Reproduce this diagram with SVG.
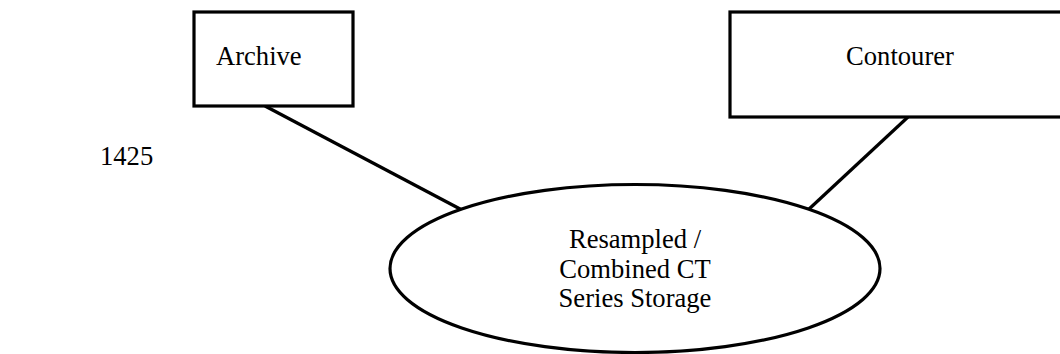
<svg xmlns="http://www.w3.org/2000/svg" width="1060" height="354" viewBox="0 0 1060 354">
<style>
.shape{fill:#fff;stroke:#000;stroke-width:3.2}
.conn{stroke:#000;stroke-width:3.2;fill:none}
text{font-family:"Liberation Serif","Times New Roman",serif;font-size:26.6px;fill:#000}
</style>
<rect width="1060" height="354" fill="#fff"/>
<g id="connectors">
<line class="conn" x1="265" y1="106" x2="462" y2="210"/>
<line class="conn" x1="908" y1="117" x2="808" y2="210"/>
</g>
<g id="archive">
<rect class="shape" x="194" y="12" width="159" height="94"/>
<text x="216" y="65">Archive</text>
</g>
<g id="contourer">
<rect class="shape" x="730" y="12" width="340" height="105"/>
<text x="900" y="65" text-anchor="middle">Contourer</text>
</g>
<g id="storage">
<ellipse class="shape" cx="635" cy="268.5" rx="245" ry="84"/>
<text x="635" y="248" text-anchor="middle">Resampled /</text>
<text x="635" y="277.5" text-anchor="middle">Combined CT</text>
<text x="635" y="307" text-anchor="middle">Series Storage</text>
</g>
<g id="label1425">
<text x="100" y="165">1425</text>
</g>
</svg>
